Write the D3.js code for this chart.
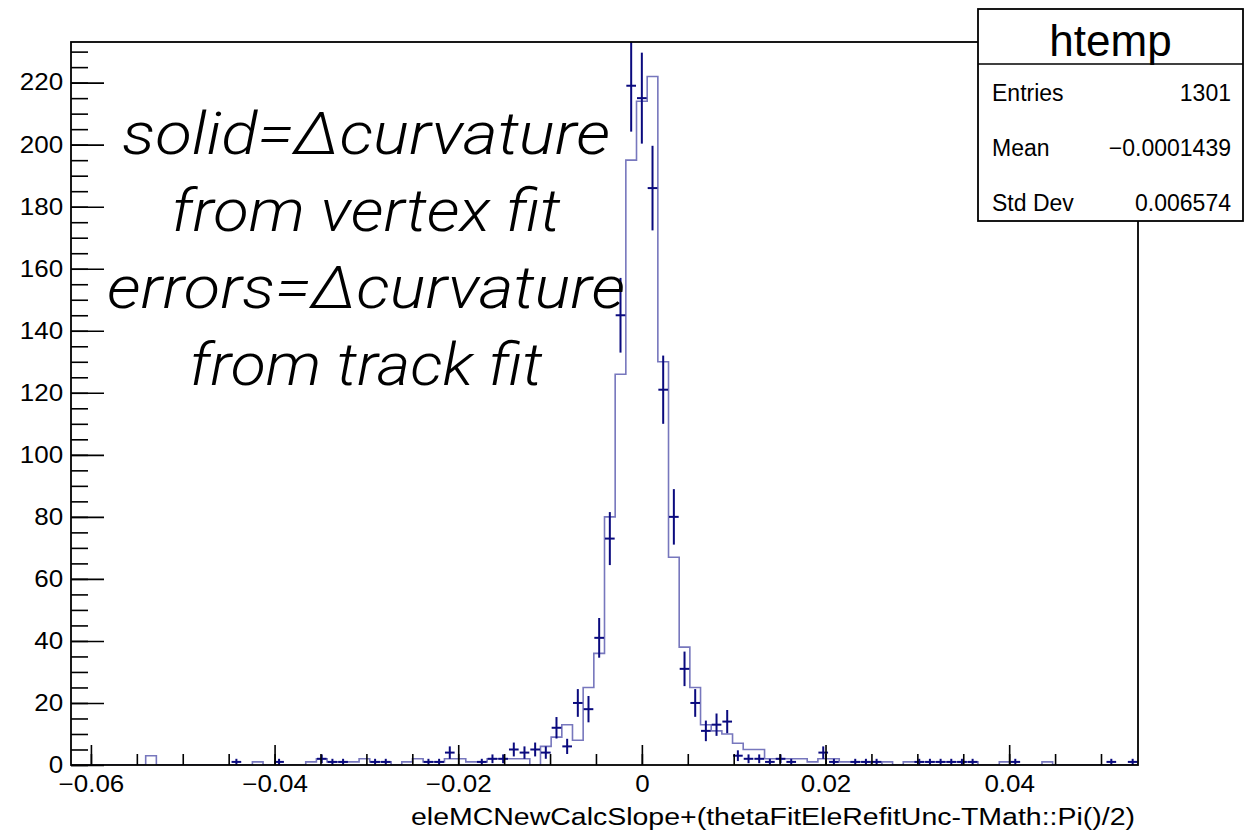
<!DOCTYPE html>
<html>
<head>
<meta charset="utf-8">
<script src="https://cdn.jsdelivr.net/npm/d3@7"></script>
<style>
  html, body { margin: 0; padding: 0; background: #fff; }
  svg { display: block; }
  .root-text { font-family: "Liberation Sans", Arial, Helvetica, sans-serif; fill: #000; }
  .note { font-family: Roboto, "Open Sans", sans-serif; font-style: italic; font-weight: 300; fill: #000; }
</style>
</head>
<body>
<svg id="chart" width="1245" height="831"></svg>
<script>
// Histogram range and binning (100 equal bins)
const xMin = -0.06217;
const xMax = 0.05403;
const nBins = 100;
const yMax = 233.1;

// Solid histogram: Δcurvature from the vertex fit (counts per bin)
const vertexFitCounts = [
  0, 0, 0, 0, 0, 0, 0, 3, 0, 0,
  0, 0, 0, 0, 0, 0, 0, 1, 0, 0,
  0, 0, 1, 2, 1, 1, 1, 2, 1, 1,
  0, 1, 2, 1, 1, 2, 2, 1, 1, 2,
  2, 2, 2, 0, 6, 9, 13, 8, 25, 36,
  80, 126, 195, 214, 222, 130, 67, 38, 25, 13,
  11, 10, 7, 5, 5, 2, 2, 2, 2, 1,
  2, 2, 1, 1, 1, 0, 1, 0, 1, 1,
  1, 1, 1, 1, 1, 0, 0, 1, 0, 0,
  0, 1, 0, 0, 0, 0, 0, 0, 0, 0
];

// Points with error bars: Δcurvature from the track fit (counts per bin)
const trackFitCounts = [
  0, 0, 0, 0, 0, 0, 0, 0, 0, 0,
  0, 0, 0, 0, 0, 1, 0, 0, 0, 1,
  0, 0, 0, 2, 1, 1, 0, 0, 1, 1,
  0, 0, 0, 1, 1, 4, 0, 0, 1, 2,
  2, 5, 4, 5, 4, 12, 6, 20, 18, 41,
  73, 145, 219, 215, 186, 121, 80, 31, 20, 11,
  13, 14, 3, 2, 2, 1, 2, 1, 0, 0,
  4, 1, 0, 1, 1, 1, 0, 0, 0, 1,
  1, 1, 1, 1, 1, 0, 0, 0, 1, 0,
  0, 0, 0, 0, 0, 0, 0, 1, 0, 1
];

// Axis ticks
const xMajorTicks = [-0.06, -0.04, -0.02, 0, 0.02, 0.04];
const xMinorTicks = d3.range(-60, 55, 5).map(v => v / 1000);
const yMajorTicks = d3.range(0, 221, 20);
const yMinorTicks = d3.range(0, 231, 5);

// Text
const xTitle = "eleMCNewCalcSlope+(thetaFitEleRefitUnc-TMath::Pi()/2)";
const statsTitle = "htemp";
const statsRows = [["Entries", "1301"], ["Mean", "\u22120.0001439"], ["Std Dev", "0.006574"]];
const noteLines = ["solid=\u0394curvature", "from vertex fit", "errors=\u0394curvature", "from track fit"];

const frame = { left: 71, right: 1138, top: 42, bottom: 765 };
const solidColor = "#7777bd";
const errColor = "#0a0a7e";

const svg = d3.select("#chart");

const x = d3.scaleLinear().domain([xMin, xMax]).range([frame.left, frame.right]);
const y = d3.scaleLinear().domain([0, yMax]).range([frame.bottom, frame.top]);

const binW = (xMax - xMin) / nBins;
const edges = d3.range(nBins + 1).map(i => xMin + i * binW);

svg.append("defs").append("clipPath").attr("id", "plotClip")
  .append("rect")
  .attr("x", frame.left).attr("y", frame.top)
  .attr("width", frame.right - frame.left).attr("height", frame.bottom - frame.top);

const plot = svg.append("g").attr("clip-path", "url(#plotClip)");

// Step outline of the vertex-fit histogram
const stepPts = [[edges[0], 0]];
vertexFitCounts.forEach((c, i) => {
  stepPts.push([edges[i], c]);
  stepPts.push([edges[i + 1], c]);
});
stepPts.push([edges[nBins], 0]);
plot.append("path")
  .attr("d", d3.line().x(d => x(d[0])).y(d => y(d[1]))(stepPts))
  .attr("fill", "none")
  .attr("stroke", solidColor)
  .attr("stroke-width", 1.6);

// Error crosses of the track-fit histogram
const pts = trackFitCounts.map((c, i) => ({ c, i })).filter(d => d.c > 0);
const err = plot.append("g").attr("stroke", errColor).attr("stroke-width", 2);
err.selectAll("line.v").data(pts).join("line")
  .attr("class", "v")
  .attr("x1", d => x((edges[d.i] + edges[d.i + 1]) / 2))
  .attr("x2", d => x((edges[d.i] + edges[d.i + 1]) / 2))
  .attr("y1", d => y(d.c - Math.sqrt(d.c)))
  .attr("y2", d => y(d.c + Math.sqrt(d.c)));
err.selectAll("line.h").data(pts).join("line")
  .attr("class", "h")
  .attr("x1", d => x(edges[d.i]) + 0.5)
  .attr("x2", d => x(edges[d.i + 1]) - 0.5)
  .attr("y1", d => y(d.c))
  .attr("y2", d => y(d.c));

// X axis: minor and major ticks pointing into the frame
const xAxisG = svg.append("g").attr("transform", `translate(0,${frame.bottom})`);
xAxisG.append("g")
  .call(d3.axisBottom(x).tickValues(xMinorTicks).tickSizeInner(-11).tickSizeOuter(0).tickFormat(""))
  .call(g => g.select(".domain").remove());
xAxisG.append("g")
  .call(d3.axisBottom(x).tickValues(xMajorTicks).tickSizeInner(-20).tickSizeOuter(0)
    .tickPadding(11)
    .tickFormat(d => d === 0 ? "0" : d3.format(".2f")(d)))
  .call(g => g.select(".domain").remove());
xAxisG.selectAll(".tick line").attr("stroke", "#000").attr("stroke-width", 1.6);
xAxisG.selectAll(".tick text")
  .attr("class", "root-text")
  .attr("font-size", 23)
  .attr("transform", "scale(1.13,1)");

// Y axis
const yAxisG = svg.append("g").attr("transform", `translate(${frame.left},0)`);
yAxisG.append("g")
  .call(d3.axisLeft(y).tickValues(yMinorTicks).tickSizeInner(-17).tickSizeOuter(0).tickFormat(""))
  .call(g => g.select(".domain").remove());
yAxisG.append("g")
  .call(d3.axisLeft(y).tickValues(yMajorTicks).tickSizeInner(-33).tickSizeOuter(0).tickPadding(7))
  .call(g => g.select(".domain").remove());
yAxisG.selectAll(".tick line").attr("stroke", "#000").attr("stroke-width", 1.6);
yAxisG.selectAll(".tick text")
  .attr("class", "root-text")
  .attr("font-size", 23)
  .attr("transform", "scale(1.13,1)");

// Frame
svg.append("rect")
  .attr("x", frame.left).attr("y", frame.top)
  .attr("width", frame.right - frame.left).attr("height", frame.bottom - frame.top)
  .attr("fill", "none").attr("stroke", "#000").attr("stroke-width", 1.8);

// X axis title, right-aligned to the frame
svg.append("text")
  .attr("class", "root-text")
  .attr("x", frame.right - 3).attr("y", 825)
  .attr("text-anchor", "end")
  .attr("font-size", 23)
  .attr("textLength", 724)
  .attr("lengthAdjust", "spacingAndGlyphs")
  .text(xTitle);

// Statistics box
const box = { x: 978, y: 9, w: 265, h: 212, sep: 64 };
const stats = svg.append("g");
stats.append("rect")
  .attr("x", box.x).attr("y", box.y).attr("width", box.w).attr("height", box.h)
  .attr("fill", "#fff").attr("stroke", "#000").attr("stroke-width", 1.8);
stats.append("line")
  .attr("x1", box.x).attr("x2", box.x + box.w)
  .attr("y1", box.sep).attr("y2", box.sep)
  .attr("stroke", "#000").attr("stroke-width", 1.5);
stats.append("text")
  .attr("class", "root-text")
  .attr("x", box.x + box.w / 2).attr("y", 56)
  .attr("text-anchor", "middle")
  .attr("font-size", 44)
  .text(statsTitle);
statsRows.forEach((r, i) => {
  const by = 101 + i * 55;
  stats.append("text").attr("class", "root-text")
    .attr("x", box.x + 14).attr("y", by).attr("font-size", 23).text(r[0]);
  stats.append("text").attr("class", "root-text")
    .attr("x", box.x + box.w - 12).attr("y", by).attr("font-size", 23)
    .attr("text-anchor", "end").text(r[1]);
});

// Annotation block
const noteCenter = 366;
const noteBase = [154, 231, 308, 385];
const noteWidth = [488, 389, 518, 353];
noteLines.forEach((t, i) => {
  svg.append("text")
    .attr("class", "note")
    .attr("x", noteCenter).attr("y", noteBase[i])
    .attr("text-anchor", "middle")
    .attr("font-size", 60)
    .attr("textLength", noteWidth[i])
    .attr("lengthAdjust", "spacingAndGlyphs")
    .text(t);
});
</script>
</body>
</html>
